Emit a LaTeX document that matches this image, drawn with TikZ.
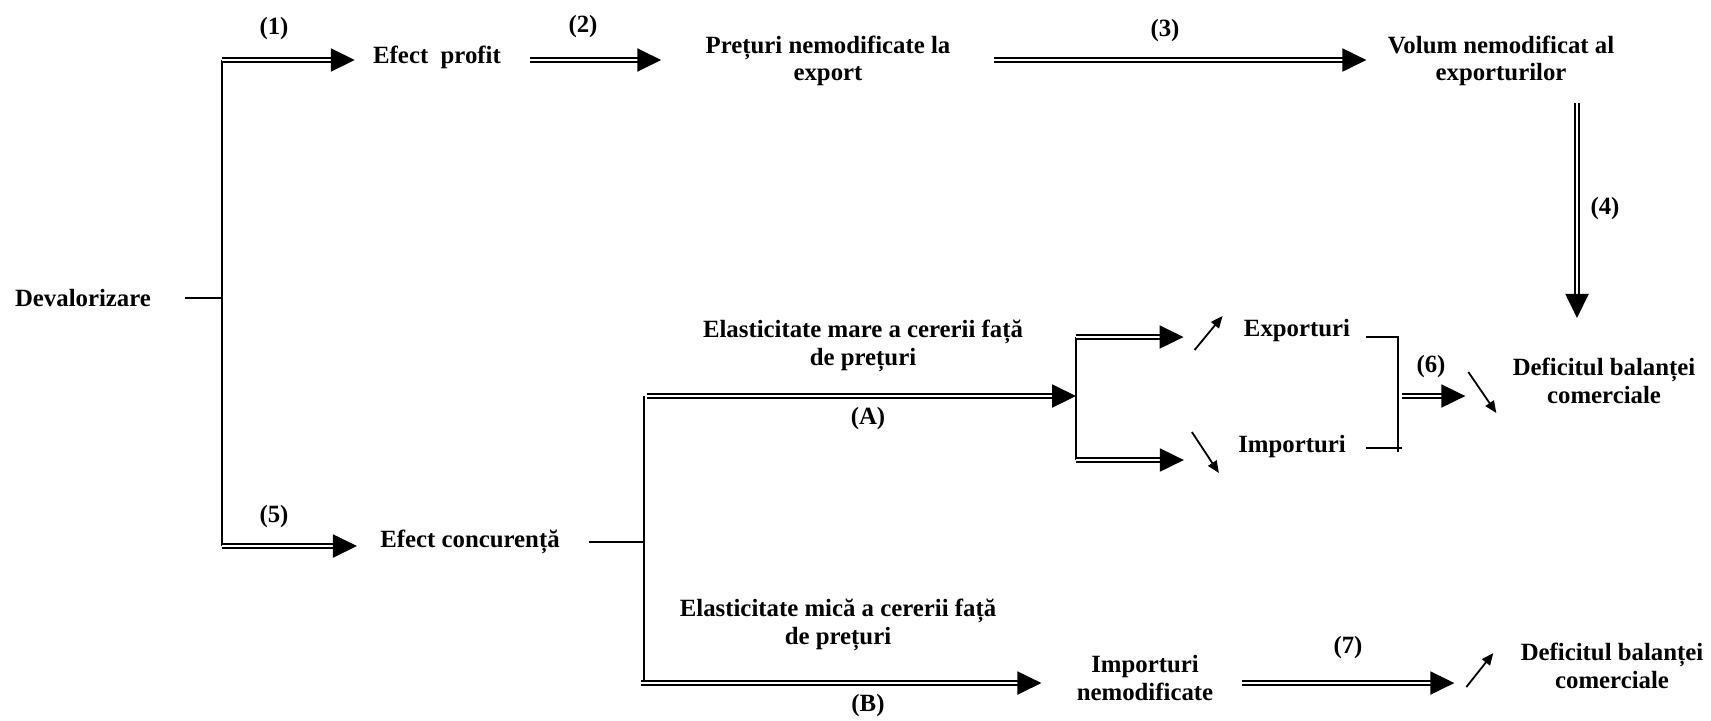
\documentclass[tikz,border=0pt]{standalone}
\usepackage{fontspec}
\setmainfont{Liberation Serif}
\usetikzlibrary{arrows.meta}
\begin{document}
\begin{tikzpicture}[x=0.5pt,y=-0.5pt,
  lbl/.style={font=\fontsize{12.4}{13.8}\selectfont\bfseries, align=center, inner sep=0pt},
  thin/.style={line width=0.9pt},
  dbl/.style={double, line width=1pt, double distance=1.1pt,
    -{Triangle[length=12pt,width=11.5pt]}},
  trend/.style={line width=0.9pt, -{Triangle[length=6pt,width=5pt]}},
]
\useasboundingbox (0,0) rectangle (1711,720);

% text blocks
\node[lbl] (dev)  at (83,298)   {Devalorizare};
\node[lbl] (efp)  at (437,57)   {Efect\ \ profit};
\node[lbl] (pret) at (828,61)   {Prețuri nemodificate la\\export};
\node[lbl] (vol)  at (1501,61)  {Volum nemodificat al\\exporturilor};
\node[lbl] (efc)  at (470,542)  {Efect concurență};
\node[lbl] (elm)  at (863,346)  {Elasticitate mare a cererii față\\de prețuri};
\node[lbl] (labA) at (868,419)  {(A)};
\node[lbl] (exp)  at (1297,331) {Exporturi};
\node[lbl] (imp)  at (1292,447) {Importuri};
\node[lbl] (def1) at (1604,381) {Deficitul balanței\\comerciale};
\node[lbl] (elmi) at (838,625)  {Elasticitate mică a cererii față\\de prețuri};
\node[lbl] (labB) at (868,706)  {(B)};
\node[lbl] (impn) at (1145,678) {Importuri\\nemodificate};
\node[lbl] (def2) at (1612,666) {Deficitul balanței\\comerciale};

% step numbers
\node[lbl] (n1) at (274,29)   {(1)};
\node[lbl] (n2) at (583,27)   {(2)};
\node[lbl] (n3) at (1165,31)  {(3)};
\node[lbl] (n4) at (1605,209) {(4)};
\node[lbl] (n5) at (274,517)  {(5)};
\node[lbl] (n6) at (1431,367) {(6)};
\node[lbl] (n7) at (1348,648) {(7)};

% junction points
\coordinate (jt) at (222,60);
\coordinate (jm) at (222,298);
\coordinate (jb) at (222,546);
\coordinate (ct) at (644,396);
\coordinate (cm) at (644,542);
\coordinate (cb) at (644,683);
\coordinate (st) at (1076,337);
\coordinate (sm) at (1076,396);
\coordinate (sb) at (1076,460);
\coordinate (bt) at (1398,337);
\coordinate (bm) at (1398,396);
\coordinate (bb) at (1398,452);
\coordinate (bi) at (1402,448);

% left trunk
\draw[thin, shorten <=17pt] (dev.east) -- (jm);
\draw[thin] (jt) -- (jb);
\draw[dbl, shorten >=9pt] (jt) -- (jt -| efp.west);
\draw[dbl, shorten >=11.5pt] (jb) -- (jb -| efc.west);

% upper chain
\draw[dbl, shorten <=14.5pt, shorten >=22pt] (efp.east |- jt) -- (pret.west |- jt);
\draw[dbl, shorten <=21.5pt, shorten >=10.5pt] (pret.east |- jt) -- (vol.west |- jt);
\draw[dbl] ([xshift=38pt,yshift=-8pt]vol.south) -- ([xshift=-13.5pt,yshift=20pt]def1.north);

% competition branch
\draw[thin, shorten <=14.5pt] (efc.east |- cm) -- (cm);
\draw[thin] (ct) -- (cb);
\draw[dbl] ([xshift=1.5pt]ct) -- (sm);
\draw[thin] (st) -- (sb);
\draw[dbl, shorten >=30pt] (st) -- (st -| exp.west);
\draw[dbl, shorten >=27pt] (sb) -- (sb -| imp.west);
\draw[trend] ([xshift=-24.5pt,yshift=-9.5pt]exp.west) -- ++(28,-34);
\draw[trend] ([xshift=-23pt,yshift=7.5pt]imp.west) -- ++(27,41);

% bracket joining exports and imports
\draw[thin, shorten <=8pt] (exp.east |- bt) -- (bt) -- (bb);
\draw[thin, shorten <=10pt] (imp.east |- bi) -- (bi);
\draw[dbl, shorten >=23.5pt] ([xshift=2pt]bm) -- (bm -| def1.west);
\draw[trend] ([xshift=-22pt,yshift=4.5pt]def1.west) -- ++(28,41);

% low elasticity branch
\draw[dbl, shorten >=17.5pt] ([xshift=-1.5pt]cb) -- (cb -| impn.west);
\draw[dbl, shorten <=14pt, shorten >=33pt] (impn.east |- cb) -- (cb -| def2.west);
\draw[trend] ([xshift=-27pt,yshift=-10.5pt]def2.west) -- ++(27,-34);
\end{tikzpicture}
\end{document}
